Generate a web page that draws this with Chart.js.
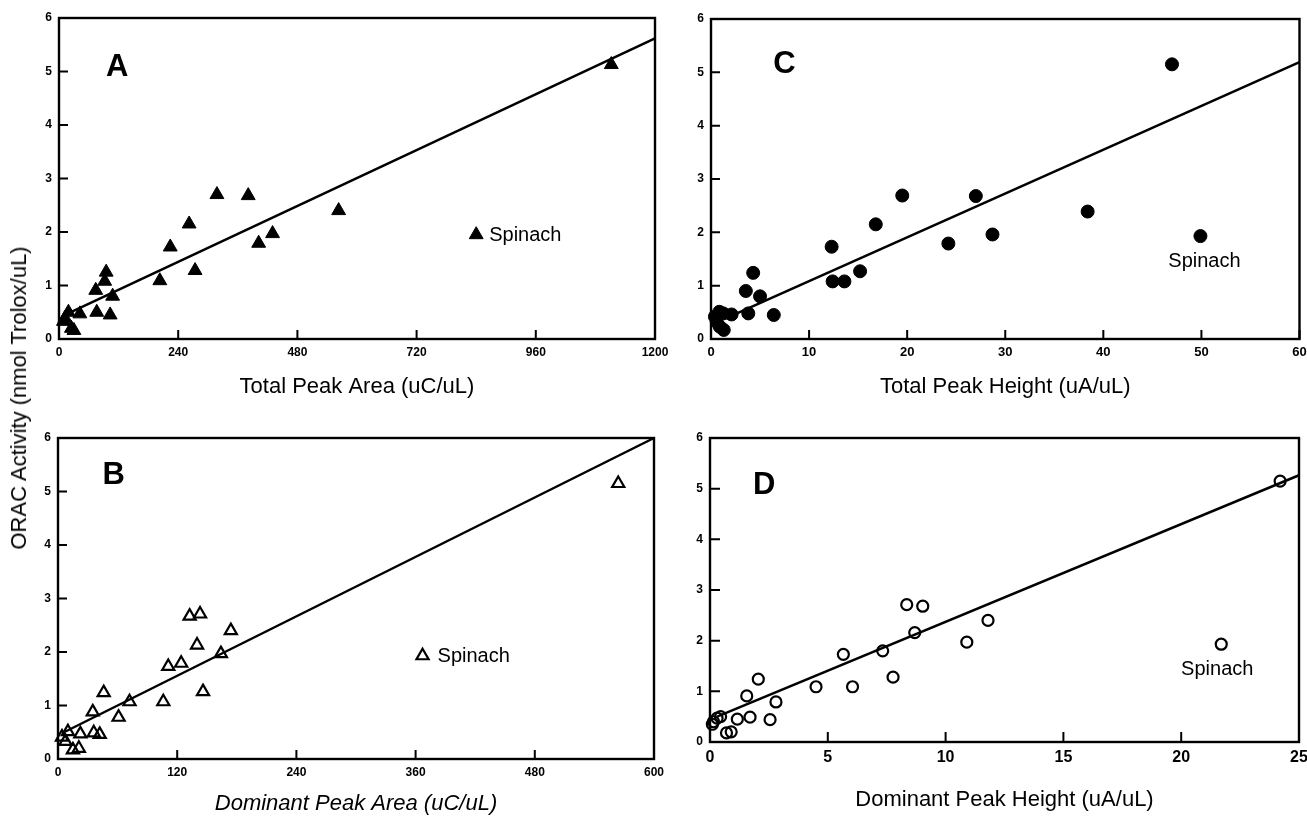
<!DOCTYPE html>
<html><head><meta charset="utf-8">
<script src="https://cdn.jsdelivr.net/npm/chart.js@4/dist/chart.umd.min.js"></script>
<style>
html,body{margin:0;padding:0;background:#fff;overflow:hidden;width:1307px;height:817px}
#wrap{position:relative;width:1307px;height:817px;background:#fff}
canvas{position:absolute}
#ytitle{position:absolute;left:19px;top:398px;transform:translate(-50%,-50%) rotate(-90deg);font:22px "Liberation Sans",Arial,Helvetica,sans-serif;white-space:nowrap;color:#000}
</style></head><body>
<div id="wrap">
<canvas id="cA" width="680" height="405" style="left:0;top:0"></canvas>
<canvas id="cC" width="627" height="405" style="left:680px;top:0"></canvas>
<canvas id="cB" width="680" height="412" style="left:0;top:405px"></canvas>
<canvas id="cD" width="627" height="412" style="left:680px;top:405px"></canvas>
<div id="ytitle">ORAC Activity (nmol Trolox/uL)</div>
</div>
<script>
const FAM = '"Liberation Sans", Arial, Helvetica, sans-serif';
const yTicks = [0, 1, 2, 3, 4, 5, 6];

// Panel A: Total Peak Area (uC/uL) — last point is Spinach
const aX = [1112, 318, 381, 563, 262, 430, 402, 224, 274, 95, 92, 203, 74, 108, 76, 103, 42, 19, 12, 9, 25, 30, 840];
const aY = [5.13, 2.70, 2.68, 2.40, 2.15, 1.97, 1.79, 1.72, 1.28, 1.25, 1.08, 1.09, 0.91, 0.80, 0.50, 0.45, 0.47, 0.50, 0.39, 0.33, 0.20, 0.16, 1.95];
const aTicks = [0, 240, 480, 720, 960, 1200];
const aFitX = [10, 1200];
const aFitY = [0.44, 5.62];

// Panel C: Total Peak Height (uA/uL)
const cX = [47.0, 19.5, 27.0, 38.4, 16.8, 28.7, 24.2, 12.3, 15.2, 4.3, 12.4, 13.6, 3.55, 5.0, 3.8, 6.4, 2.1, 1.25, 0.85, 0.4, 0.58, 0.9, 1.3, 49.9];
const cY = [5.15, 2.69, 2.68, 2.39, 2.15, 1.96, 1.79, 1.73, 1.27, 1.24, 1.08, 1.08, 0.90, 0.80, 0.48, 0.45, 0.46, 0.48, 0.51, 0.42, 0.32, 0.23, 0.17, 1.93];
const cTicks = [0, 10, 20, 30, 40, 50, 60];
const cFitX = [1.5, 60];
const cFitY = [0.385, 5.19];

// Panel B: Dominant Peak Area (uC/uL)
const bX = [564, 132.5, 143, 174, 140, 164, 124, 111, 146, 46, 106, 72, 35, 61, 36, 42, 22.5, 10, 4, 7.5, 15, 21, 367];
const bY = [5.15, 2.67, 2.71, 2.40, 2.13, 1.97, 1.79, 1.73, 1.26, 1.24, 1.07, 1.07, 0.88, 0.78, 0.49, 0.46, 0.47, 0.51, 0.41, 0.33, 0.17, 0.20, 1.93];
const bTicks = [0, 120, 240, 360, 480, 600];
const bFitX = [6, 600];
const bFitY = [0.50, 6.0];

// Panel D: Dominant Peak Height (uA/uL)
const dX = [24.2, 8.35, 9.03, 11.8, 8.69, 10.9, 7.33, 5.66, 7.77, 2.05, 4.5, 6.05, 1.56, 2.8, 1.7, 2.55, 1.16, 0.45, 0.3, 0.15, 0.1, 0.7, 0.9, 21.7];
const dY = [5.15, 2.71, 2.68, 2.40, 2.16, 1.97, 1.80, 1.73, 1.28, 1.24, 1.09, 1.09, 0.91, 0.79, 0.49, 0.44, 0.45, 0.50, 0.47, 0.40, 0.35, 0.18, 0.20, 1.93];
const dTicks = [0, 5, 10, 15, 20, 25];
const dFitX = [0.3, 25];
const dFitY = [0.50, 5.265];

function pts(xs, ys) { return xs.map((v, i) => ({x: v, y: ys[i]})); }

function panel(id, p) {
  const deco = {
    id: 'deco_' + id,
    afterDatasetsDraw(chart) {
      const {ctx, chartArea: ca} = chart;
      const x = chart.scales.x, y = chart.scales.y;
      ctx.save();
      ctx.strokeStyle = '#000';
      ctx.lineWidth = 2.4;
      ctx.strokeRect(ca.left, ca.top, ca.right - ca.left, ca.bottom - ca.top);
      ctx.lineWidth = 2;
      ctx.beginPath();
      p.xTicks.forEach(v => { const q = x.getPixelForValue(v); ctx.moveTo(q, ca.bottom); ctx.lineTo(q, ca.bottom - p.tickLen); });
      yTicks.forEach(v => { const q = y.getPixelForValue(v); ctx.moveTo(ca.left, q); ctx.lineTo(ca.left + p.tickLen, q); });
      ctx.stroke();
      ctx.fillStyle = '#000';
      p.labels.forEach(l => {
        ctx.font = l.font;
        ctx.textAlign = l.align || 'center';
        ctx.textBaseline = 'middle';
        ctx.fillText(l.text, x.getPixelForValue(l.x) + (l.dx || 0), y.getPixelForValue(l.y) + (l.dy || 0));
      });
      ctx.restore();
    }
  };
  return new Chart(document.getElementById(id), {
    type: 'scatter',
    data: {
      datasets: [
        {
          data: pts(p.xs, p.ys),
          pointStyle: p.style,
          pointRadius: p.radius,
          backgroundColor: p.filled ? '#000' : 'rgba(0,0,0,0)',
          borderColor: '#000',
          borderWidth: p.filled ? 1 : 2.2,
          clip: false
        },
        {
          data: pts(p.fitX, p.fitY),
          showLine: true,
          borderColor: '#000',
          borderWidth: 2.5,
          pointRadius: 0,
          fill: false,
          clip: false
        }
      ]
    },
    options: {
      responsive: false,
      maintainAspectRatio: false,
      animation: false,
      events: [],
      layout: {padding: p.pad},
      plugins: {legend: {display: false}, tooltip: {enabled: false}},
      scales: {
        x: {
          type: 'linear', min: 0, max: p.xMax,
          afterBuildTicks: s => { s.ticks = p.xTicks.map(v => ({value: v})); },
          ticks: {font: {family: FAM, size: p.xTickSize, weight: 'bold'}, color: '#000', padding: p.xTickPad, maxRotation: 0, autoSkip: false, callback: v => String(v)},
          grid: {display: false, drawTicks: false},
          border: {display: false},
          title: {display: true, text: p.title, color: '#000', font: {family: FAM, size: 22, style: p.italic ? 'italic' : 'normal', lineHeight: 1.2}, padding: {top: 0, bottom: p.titlePad}},
          afterFit: s => { s.height = p.xH; s.paddingLeft = 0; s.paddingRight = 0; }
        },
        y: {
          type: 'linear', min: 0, max: 6,
          afterBuildTicks: s => { s.ticks = yTicks.map(v => ({value: v})); },
          ticks: {font: {family: FAM, size: 12, weight: 'bold'}, color: '#000', padding: 7, autoSkip: false, callback: v => String(v)},
          grid: {display: false, drawTicks: false},
          border: {display: false},
          afterFit: s => { s.width = p.yW; s.paddingTop = 0; s.paddingBottom = 0; }
        }
      }
    },
    plugins: [deco]
  });
}

const letterFont = 'bold 31px ' + FAM;
const spinFont = '20px ' + FAM;

panel('cA', {
  xs: aX, ys: aY, xMax: 1200, xTicks: aTicks, fitX: aFitX, fitY: aFitY,
  style: 'triangle', radius: 8, filled: true,
  pad: {left: 0, top: 18, right: 25, bottom: 0}, yW: 59, xH: 66, xTickSize: 12, xTickPad: 6,
  title: 'Total Peak Area (uC/uL)', titlePad: 5, tickLen: 9,
  labels: [
    {text: 'A', x: 117, y: 5.08, font: letterFont},
    {text: 'Spinach', x: aX[22], y: aY[22], dx: 13, dy: 1, align: 'left', font: spinFont}
  ]
});
panel('cC', {
  xs: cX, ys: cY, xMax: 60, xTicks: cTicks, fitX: cFitX, fitY: cFitY,
  style: 'circle', radius: 6.5, filled: true,
  pad: {left: 0, top: 19, right: 5, bottom: 0}, yW: 31, xH: 66, xTickSize: 13, xTickPad: 6,
  title: 'Total Peak Height (uA/uL)', titlePad: 5, tickLen: 9,
  labels: [
    {text: 'C', x: 7.5, y: 5.14, font: letterFont},
    {text: 'Spinach', x: cX[23], y: cY[23], dx: 4, dy: 25, font: spinFont}
  ]
});
panel('cB', {
  xs: bX, ys: bY, xMax: 600, xTicks: bTicks, fitX: bFitX, fitY: bFitY,
  style: 'triangle', radius: 7, filled: false,
  pad: {left: 0, top: 33, right: 26, bottom: 0}, yW: 58, xH: 58, xTickSize: 12, xTickPad: 6,
  title: 'Dominant Peak Area (uC/uL)', italic: true, titlePad: 0, tickLen: 9,
  labels: [
    {text: 'B', x: 56, y: 5.3, font: letterFont},
    {text: 'Spinach', x: bX[22], y: bY[22], dx: 15, dy: 1, align: 'left', font: spinFont}
  ]
});
panel('cD', {
  xs: dX, ys: dY, xMax: 25, xTicks: dTicks, fitX: dFitX, fitY: dFitY,
  style: 'circle', radius: 5.5, filled: false,
  pad: {left: 0, top: 33, right: 8, bottom: 0}, yW: 30, xH: 75, xTickSize: 16, xTickPad: 6,
  title: 'Dominant Peak Height (uA/uL)', titlePad: 4, tickLen: 10,
  labels: [
    {text: 'D', x: 2.3, y: 5.07, font: letterFont},
    {text: 'Spinach', x: dX[23], y: dY[23], dx: -4, dy: 25, font: spinFont}
  ]
});
</script>
</body></html>
